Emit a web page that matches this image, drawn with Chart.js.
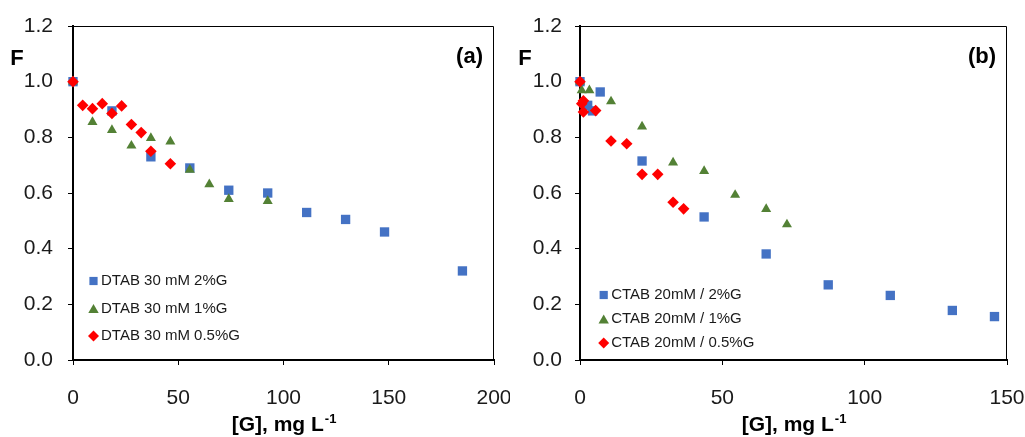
<!DOCTYPE html>
<html>
<head>
<meta charset="utf-8">
<script src="https://cdn.jsdelivr.net/npm/chart.js@4.4.1/dist/chart.umd.min.js"></script>
<style>
  html, body { margin: 0; padding: 0; background: #fff; }
  #wrap { position: relative; width: 1025px; height: 437px; overflow: hidden; }
  canvas { position: absolute; top: 0; }
  #chartA { left: 0; }
  #chartB { left: 510px; }
</style>
</head>
<body>
<div id="wrap">
  <canvas id="chartA" width="510" height="437"></canvas>
  <canvas id="chartB" width="515" height="437"></canvas>
</div>
<script>
// panel (a) - DTAB 30 mM
const dtabLabels = ["DTAB 30 mM 2%G", "DTAB 30 mM 1%G", "DTAB 30 mM 0.5%G"];
const dtab2X = [0, 18.5, 37, 55.5, 74, 92.5, 111, 129.5, 148, 185];
const dtab2Y = [1.0, 0.895, 0.73, 0.69, 0.61, 0.60, 0.53, 0.505, 0.46, 0.32];
const dtab1X = [0, 9.25, 18.5, 27.75, 37, 46.25, 55.5, 64.75, 74, 92.5];
const dtab1Y = [1.0, 0.855, 0.826, 0.77, 0.797, 0.785, 0.683, 0.631, 0.578, 0.571];
const dtab05X = [0, 4.6, 9.25, 13.9, 18.5, 23.1, 27.75, 32.4, 37, 46.25];
const dtab05Y = [1.0, 0.915, 0.903, 0.921, 0.886, 0.913, 0.846, 0.817, 0.75, 0.705];

// panel (b) - CTAB 20 mM
const ctabLabels = ["CTAB 20mM / 2%G", "CTAB 20mM / 1%G", "CTAB 20mM / 0.5%G"];
const ctab2X = [0, 2.7, 4.4, 7.1, 21.8, 43.6, 65.4, 87.2, 109, 130.8, 145.6];
const ctab2Y = [1.0, 0.915, 0.895, 0.963, 0.715, 0.514, 0.381, 0.27, 0.232, 0.178, 0.156];
const ctab1X = [0, 0.6, 3.3, 10.9, 21.8, 32.7, 43.6, 54.5, 65.4, 72.7];
const ctab1Y = [1.0, 0.969, 0.969, 0.929, 0.839, 0.709, 0.679, 0.593, 0.542, 0.487];
const ctab05X = [0, 0.6, 1.2, 1.2, 5.5, 10.9, 16.4, 21.8, 27.3, 32.7, 36.4];
const ctab05Y = [1.0, 0.921, 0.931, 0.891, 0.896, 0.787, 0.777, 0.667, 0.667, 0.567, 0.543];

const yTicks = [0, 0.2, 0.4, 0.6, 0.8, 1.0, 1.2];

const blue = '#4472C4';
const green = '#538135';
const red = '#FF0000';
const fontFamily = '"Liberation Sans", Arial, sans-serif';

Chart.defaults.font.family = fontFamily;
Chart.defaults.color = '#000';

function toPoints(xs, ys) {
    return xs.map((x, i) => ({x: x, y: ys[i]}));
}

function makeSet(label, xs, ys, color, style, radius, order) {
    return {
        label: label,
        data: toPoints(xs, ys),
        backgroundColor: color,
        borderColor: color,
        borderWidth: 0,
        pointStyle: style,
        pointRadius: radius,
        pointHoverRadius: radius,
        clip: false,
        order: order
    };
}

// frame, panel letter, F, x title and legend drawn on top
const panelDecor = {
    id: 'panelDecor',
    afterDraw(chart, args, opts) {
        const ctx = chart.ctx;
        const a = chart.chartArea;
        ctx.save();
        ctx.strokeStyle = '#000';
        ctx.lineWidth = 1;
        ctx.beginPath();
        ctx.moveTo(a.left, a.top + 0.5);
        ctx.lineTo(a.right - 0.5, a.top + 0.5);
        ctx.lineTo(a.right - 0.5, a.bottom);
        ctx.stroke();

        ctx.fillStyle = '#000';
        ctx.textBaseline = 'alphabetic';
        ctx.font = 'bold 22px ' + fontFamily;
        ctx.textAlign = 'center';
        ctx.fillText('F', opts.fX, 65);
        ctx.textAlign = 'right';
        ctx.fillText(opts.letter, a.right - 11, 63);

        // x axis title with superscript
        const main = '[G], mg L';
        const sup = '-1';
        ctx.font = 'bold 21px ' + fontFamily;
        const w1 = ctx.measureText(main).width;
        ctx.font = 'bold 13px ' + fontFamily;
        const w2 = ctx.measureText(sup).width;
        const x0 = (a.left + a.right) / 2 - (w1 + w2) / 2;
        ctx.textAlign = 'left';
        ctx.font = 'bold 21px ' + fontFamily;
        ctx.fillText(main, x0, 431);
        ctx.font = 'bold 13px ' + fontFamily;
        ctx.fillText(sup, x0 + w1 + 1, 423);

        // legend
        ctx.font = '15px ' + fontFamily;
        ctx.textBaseline = 'middle';
        const legendSets = [chart.data.datasets[0], chart.data.datasets[1], chart.data.datasets[2]];
        const sizes = [5.8, 6, 5.5];
        legendSets.forEach((ds, i) => {
            const y = opts.legendY + i * opts.legendGap;
            ctx.fillStyle = ds.backgroundColor;
            Chart.helpers.drawPoint(ctx, {pointStyle: ds.pointStyle, radius: sizes[i], rotation: 0, borderWidth: 0}, opts.legendX, y + (ds.pointStyle === 'triangle' ? 1.5 : 0));
            ctx.fillStyle = '#1a1a1a';
            ctx.fillText(ds.label, opts.legendX + 7.5, y);
        });
        ctx.restore();
    }
};

function makeChart(canvasId, sets, xMax, yWidth, padRight, yPad, decor) {
    const canvas = document.getElementById(canvasId);
    const ctx = canvas.getContext('2d');
    return new Chart(ctx, {
        type: 'scatter',
        data: {datasets: sets},
        options: {
            responsive: false,
            animation: false,
            events: [],
            layout: {padding: {left: 0, right: padRight, top: 26, bottom: 0}},
            plugins: {
                legend: {display: false},
                tooltip: {enabled: false},
                panelDecor: decor
            },
            scales: {
                x: {
                    type: 'linear',
                    min: 0,
                    max: xMax,
                    ticks: {stepSize: 50, padding: 21, font: {size: 21}, color: '#1a1a1a'},
                    grid: {drawOnChartArea: false, tickLength: 5, color: '#000', tickColor: '#000', tickWidth: 1},
                    border: {display: true, color: '#000', width: 2},
                    afterFit(scale) {
                        scale.height = 77;
                        scale.paddingLeft = 0;
                        scale.paddingRight = 0;
                    }
                },
                y: {
                    min: 0,
                    max: 1.2,
                    afterBuildTicks(scale) {
                        scale.ticks = yTicks.map(v => ({value: v}));
                    },
                    ticks: {
                        padding: yPad,
                        font: {size: 21},
                        color: '#1a1a1a',
                        callback: v => v.toFixed(1)
                    },
                    grid: {drawOnChartArea: false, tickLength: 5, color: '#000', tickColor: '#000', tickWidth: 1},
                    border: {display: true, color: '#000', width: 2},
                    afterFit(scale) {
                        scale.width = yWidth;
                        scale.paddingTop = 0;
                        scale.paddingBottom = 0;
                    }
                }
            }
        },
        plugins: [panelDecor]
    });
}

const setsA = [
    makeSet(dtabLabels[0], dtab2X, dtab2Y, blue, 'rect', 6.6, 3),
    makeSet(dtabLabels[1], dtab1X, dtab1Y, green, 'triangle', 5.8, 2),
    makeSet(dtabLabels[2], dtab05X, dtab05Y, red, 'rectRot', 5.8, 1)
];
const setsB = [
    makeSet(ctabLabels[0], ctab2X, ctab2Y, blue, 'rect', 6.6, 3),
    makeSet(ctabLabels[1], ctab1X, ctab1Y, green, 'triangle', 5.8, 2),
    makeSet(ctabLabels[2], ctab05X, ctab05Y, red, 'rectRot', 5.8, 1)
];

let chartA = makeChart('chartA', setsA, 200, 73, 16, 15,
    {letter: '(a)', fX: 17, legendX: 93.5, legendY: 281, legendGap: 27.5});
let chartB = makeChart('chartB', setsB, 150, 70, 18, 13,
    {letter: '(b)', fX: 15, legendX: 93.7, legendY: 295, legendGap: 24});
</script>
</body>
</html>
